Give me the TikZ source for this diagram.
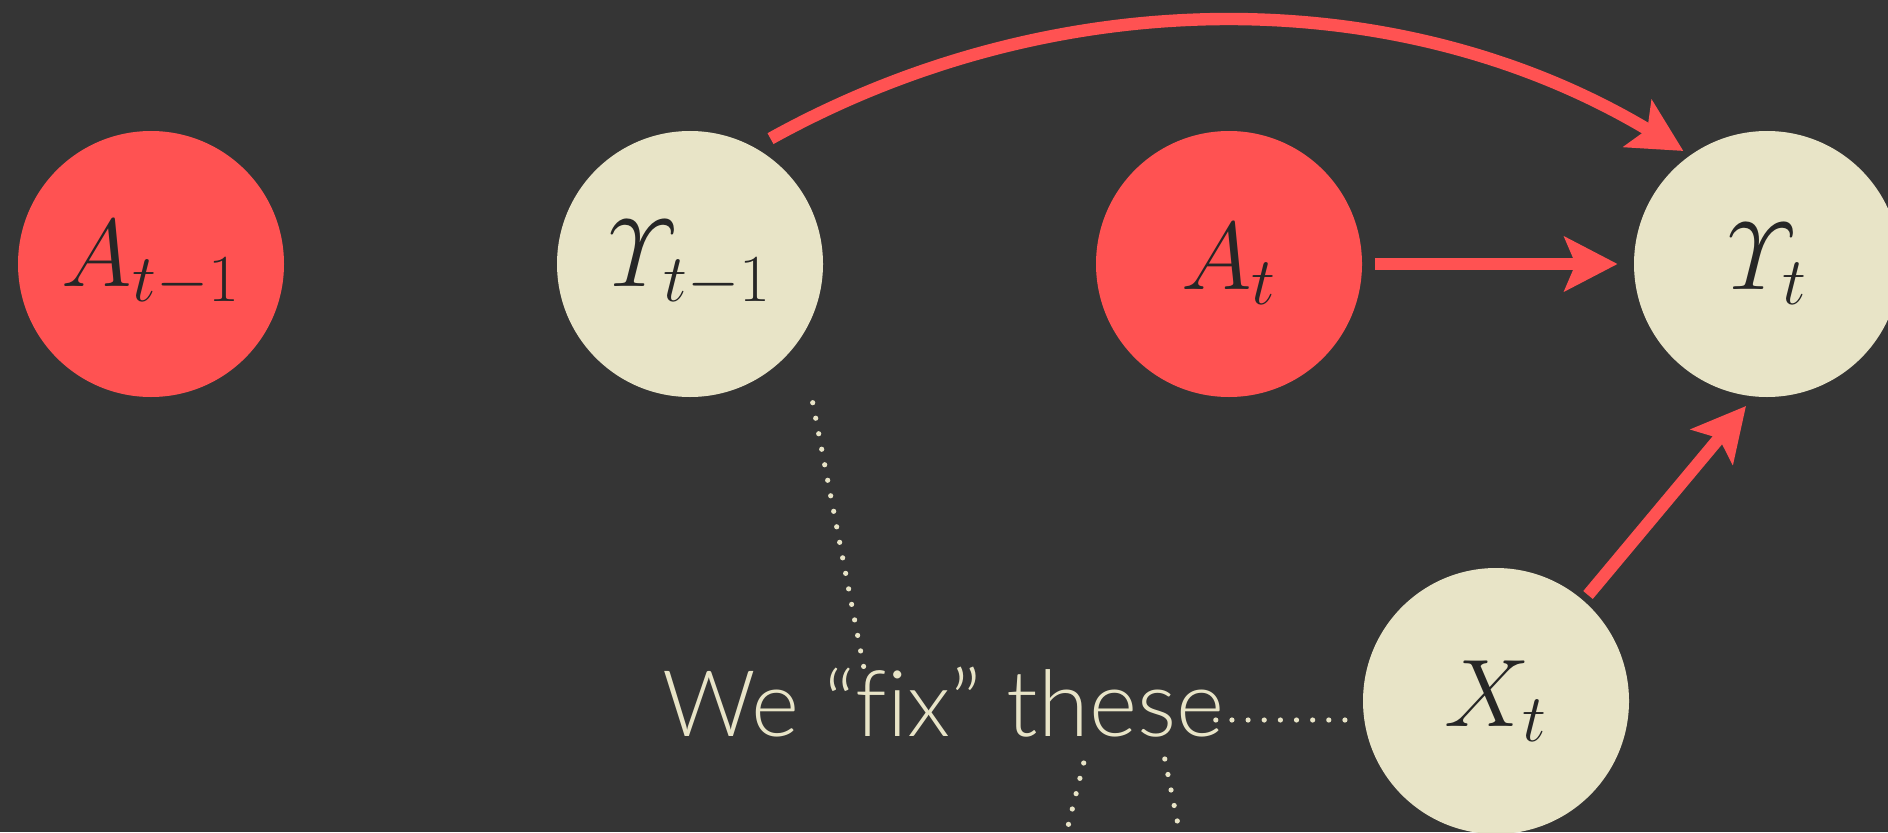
\RequirePackage{fix-cm}
\documentclass[tikz,border=0pt]{standalone}
\usepackage{amsmath}
\usepackage{fontspec}
\newfontfamily\gillfont{Lato Light}[Ligatures={TeX,NoCommon}]
\usetikzlibrary{arrows.meta,calc}
\definecolor{bg}{HTML}{353535}
\definecolor{redc}{HTML}{FF5252}
\definecolor{cream}{HTML}{E8E4C7}
\definecolor{ink}{HTML}{262626}
\begin{document}
\begin{tikzpicture}[x=0.5pt,y=0.5pt,
  var/.style={circle, minimum size=133pt, inner sep=0pt, text=ink, font=\fontsize{48}{56}\selectfont},
  redvar/.style={var, fill=redc},
  creamvar/.style={var, fill=cream},
  arr/.style={draw=redc, line width=6.2pt, -{Stealth[length=26.5pt,width=27pt,inset=5.5pt]}},
  dots/.style={draw=cream, line width=2.6pt, line cap=round, dash pattern=on 0pt off 7.9pt}]
\fill[bg] (0,0) rectangle (1888,832);
\useasboundingbox (0,0) rectangle (1888,832);
\clip (0,0) rectangle (1888,832);
\node[redvar] (am1) at (151,568) {$A_{t-1}$};
\node[creamvar] (ym1) at (690,568) {$\varUpsilon_{t-1}$};
\node[redvar] (at) at (1229,568) {$A_{t}$};
\node[creamvar] (yt) at (1767,568) {$\varUpsilon_{t}$};
\node[creamvar] (xt) at (1496,131) {$X_{t}$};
\node[anchor=base west, inner sep=0pt, text=cream, font=\gillfont\fontsize{46}{50}\selectfont] (fix) at (662,96) {We “fix” these};
% arrows
\draw[arr] ($(ym1.center)+(57.3:149)$) to[out=29, in=149, looseness=0.92] ($(yt.center)+(126.5:140.6)$);
\draw[arr] ($(at.east)+(12.5,0)$) -- ($(yt.west)+(-16,0)$);
\draw[arr] ($(xt.center)+(92,106)$) -- ($(yt.center)+(-21,-142)$);
% dotted connectors
\coordinate (d1) at (864.3,162);
\coordinate (d2) at (1061.6,-20);
\coordinate (d3) at (1183.5,-20);
\coordinate (d4) at (1348,112);
\draw[dots] ($(ym1.center)+(122.7,-138.7)$) -- (d1);
\draw[dots] (1083.7,69) -- (d2);
\draw[dots] (1164.8,73) -- (d3);
\draw[dots, dash pattern=on 0pt off 8.07pt] (1215.8,112) -- (d4);
\end{tikzpicture}
\end{document}
